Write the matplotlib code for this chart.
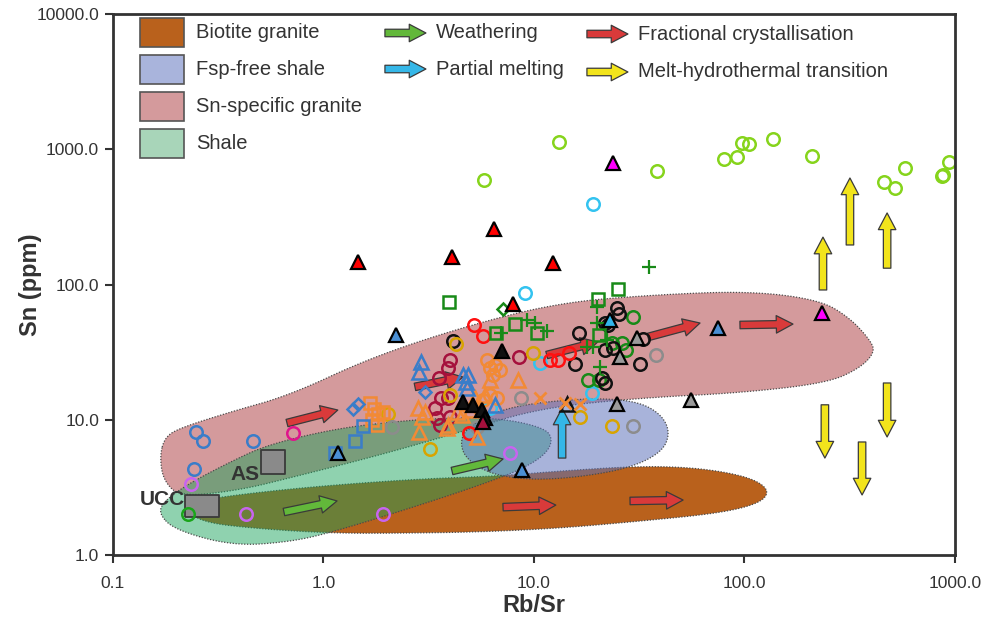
import numpy as np
import matplotlib
matplotlib.use("Agg")
import matplotlib.pyplot as plt
from matplotlib.patches import Rectangle
from matplotlib.ticker import NullLocator

plt.rcParams["font.family"] = ["Liberation Sans", "DejaVu Sans"]

# ---- sample data: Rb/Sr ratio vs Sn (ppm) ----
lime_rbsr = [5.8, 13.2, 38.4, 80, 92, 97, 105, 137, 209, 460, 519, 579, 868, 877, 937]
lime_sn = [590, 1130, 690, 850, 875, 1110, 1090, 1190, 890, 573, 517, 727, 634, 650, 805]

cyan_rbsr = [19.1, 9.07, 10.7, 6.18, 18.9]
cyan_sn = [394, 86.5, 26.3, 12.2, 15.8]

blue_circ_rbsr = [0.248, 0.268, 0.463, 0.243]
blue_circ_sn = [8.1, 7.0, 7.0, 4.3]

magenta_circ_rbsr = [0.72]
magenta_circ_sn = [8.0]

violet_rbsr = [0.235, 0.43, 1.92, 7.7]
violet_sn = [3.35, 2.0, 2.0, 5.7]

ucc_green_rbsr = [0.227]
ucc_green_sn = [2.0]

dkgreen_circ_rbsr = [29.5, 26.2, 27.4, 23.5, 18.1, 20.4]
dkgreen_circ_sn = [57.5, 37, 33, 37, 19.7, 19.7]

black_circ_rbsr = [4.12, 16.4, 15.7, 24.8, 25.3, 21.8, 22.5, 21.8, 23.7, 31.9, 33, 21.8, 21.1]
black_circ_sn = [38, 44, 26, 67, 61, 52, 50, 33, 34, 26, 39.5, 18.7, 20.4]

red_circ_rbsr = [5.19, 5.73, 11.9, 13.0, 14.7, 4.91]
red_circ_sn = [50.2, 41.6, 27.7, 27.7, 31.2, 8.0]

maroon_circ_rbsr = [8.49, 3.99, 3.91, 3.54, 3.91, 3.62, 3.39, 3.46, 3.99, 3.57]
maroon_circ_sn = [29.1, 27.7, 24.1, 20.4, 14.5, 14.5, 12.2, 10.3, 10.5, 9.15]

orange_circ_rbsr = [5.98, 6.53, 6.18, 6.9, 6.39, 6.18, 6.67, 5.73]
orange_circ_sn = [27.7, 25.4, 24.1, 23.3, 21.4, 15.2, 14.5, 14.0]

gold_circ_rbsr = [4.26, 9.9, 3.99, 2.03, 3.21, 16.5, 23.5]
gold_circ_sn = [36.3, 31.2, 15.2, 11.0, 6.08, 10.5, 9.0]

grey_circ_rbsr = [2.12, 8.68, 5.36, 29.5, 38]
grey_circ_sn = [8.84, 14.5, 8.84, 9.0, 30.1]

orange_tri_rbsr = [2.81, 2.94, 3.04, 2.84, 3.91, 4.31, 4.55, 4.97, 6.18, 8.4, 5.85, 5.25, 5.36, 3.86]
orange_tri_sn = [12.2, 10.5, 11.4, 8.1, 9.15, 11.4, 10.8, 11.8, 19.7, 19.7, 15.2, 14.5, 7.46, 8.7]

blue_tri_rbsr = [2.9, 2.84, 4.6, 4.86, 4.75, 4.8, 6.53]
blue_tri_sn = [26.7, 22.5, 21.4, 21.4, 19.0, 17.2, 12.9]

orange_x_rbsr = [10.7, 16.5, 14.0]
orange_x_sn = [14.5, 13.1, 13.3]

orange_sq_rbsr = [1.66, 1.74, 1.82, 1.70, 1.80, 1.92]
orange_sq_sn = [13.3, 12.0, 11.0, 9.96, 9.15, 11.4]

blue_sq_rbsr = [1.54, 1.41, 1.13]
blue_sq_sn = [9.0, 7.0, 5.7]

blue_dia_rbsr = [1.38, 1.46, 3.04]
blue_dia_sn = [12.0, 13.1, 16.0]

green_sq_rbsr = [3.95, 20.1, 25.1, 6.6, 8.1, 10.3, 20.4]
green_sq_sn = [74, 78, 93, 44, 51, 44, 42]

green_dia_rbsr = [7.1]
green_dia_sn = [66]

green_plus_rbsr = [19.9, 9.3, 11.5, 10.1, 7.0, 35.2, 19.9, 19.1, 17.9, 20.6, 22.2]
green_plus_sn = [68, 55, 45, 52, 44, 135, 52, 34.5, 34.5, 24.5, 39]

# filled triangles with black edge
red_ftri_rbsr = [1.46, 4.08, 6.46, 12.3, 7.95]
red_ftri_sn = [147, 160, 257, 144, 72]
magenta_ftri_rbsr = [23.7, 234]
magenta_ftri_sn = [790, 62]
blue_ftri_rbsr = [2.21, 1.17, 8.8, 75]
blue_ftri_sn = [42, 5.7, 4.25, 48]
cyan_ftri_rbsr = [23]
cyan_ftri_sn = [55]
grey_ftri_rbsr = [25.6, 30.9, 24.8, 55.7]
grey_ftri_sn = [29, 40, 13, 14]
black_ftri_rbsr = [7.05, 4.6, 5.13, 5.66, 5.85]
black_ftri_sn = [32, 13.5, 12.9, 11.8, 10.3]
maroon_ftri_rbsr = [5.75]
maroon_ftri_sn = [9.6]
black_otri_rbsr = [14.4]
black_otri_sn = [13]

# reference compositions
ref_names = ["UCC", "AS"]
ref_rbsr = [0.265, 0.576]
ref_sn = [2.30, 4.87]

# ---- field outlines (Rb/Sr, Sn) ----
biotite_rbsr = [0.217, 0.259, 0.499, 1.11, 2.87, 6.90, 13.3, 31.9, 61.5, 106, 132,
                119, 76.5, 31.9, 13.3, 5.54, 2.31, 1.11, 0.499, 0.259]
biotite_sn = [2.30, 2.55, 2.92, 3.29, 3.65, 3.84, 4.18, 4.55, 4.40, 3.77, 3.02,
              2.42, 2.04, 1.78, 1.58, 1.48, 1.45, 1.45, 1.56, 1.75]

sn_granite_rbsr = [0.167, 0.177, 0.208, 0.360, 0.693, 1.66, 4.60, 12.9, 35.6, 106,
                   229, 317, 395, 417, 354, 247, 95.2, 31.9, 10.7, 4.81, 1.86,
                   0.717, 0.401, 0.208, 0.173]
sn_granite_sn = [5.49, 7.46, 8.69, 11.4, 15.2, 28.6, 48.5, 73.0, 83.6, 89.5,
                 76.8, 56.5, 38.9, 31.7, 24.1, 18.7, 15.8, 14.5, 12.2, 8.40, 5.49,
                 3.77, 3.02, 2.69, 3.58]

shale_rbsr = [0.164, 0.197, 0.372, 0.693, 1.11, 2.87, 5.54, 8.59, 11.3, 12.3,
              11.3, 6.90, 3.58, 1.86, 1.07, 0.539, 0.360, 0.232, 0.177]
shale_sn = [2.04, 1.53, 1.17, 1.25, 1.48, 2.34, 3.29, 4.25, 5.49, 7.09,
            8.69, 10.3, 10.3, 9.46, 8.40, 6.51, 4.87, 3.41, 2.55]

fsp_free_rbsr = [4.45, 4.97, 6.90, 10.7, 20.6, 31.9, 40.6, 44.3, 40.6, 28.6,
                 16.5, 9.58, 6.18, 4.70]
fsp_free_sn = [7.09, 9.15, 11.8, 13.5, 14.5, 13.5, 10.8, 7.98, 5.77, 4.40,
               3.77, 3.58, 3.97, 5.21]

# ---- process arrows: (start, end) in (Rb/Sr, Sn) ----
fc_arrows = [((0.671, 9.46), (1.17, 11.8)), ((2.72, 17.5), (4.60, 20.7)),
             ((11.5, 30.1), (20.1, 37.6)), ((34.8, 40.9), (61.5, 51.9)),
             ((95.2, 50.2), (170, 51.0)), ((7.13, 2.26), (12.7, 2.34)),
             ((28.6, 2.51), (51.1, 2.55))]
weathering_arrows = [((0.649, 2.08), (1.16, 2.51)), ((4.08, 4.18), (7.13, 5.13))]
melting_arrows = [((13.6, 5.21), (13.6, 12.2))]
hydrothermal_arrows = [((236, 91.1), (236, 224)), ((317, 196), (317, 613)),
                       ((476, 132), (476, 338)), ((241, 12.9), (241, 5.21)),
                       ((476, 18.7), (476, 7.46)), ((362, 6.85), (362, 2.78))]

TEXT = "#333333"
EDGE = "#3a3a3a"
ARROW_STYLE = "simple,head_length=1.0,head_width=1.05,tail_width=0.45"


def smooth_outline(xs, ys, rounds=3):
    """ round off a closed outline with chaikin corner cutting in log space """
    pts = np.column_stack([np.log10(xs), np.log10(ys)])
    for _ in range(rounds):
        nxt = np.roll(pts, -1, axis=0)
        new = np.empty((2 * len(pts), 2))
        new[0::2] = 0.75 * pts + 0.25 * nxt
        new[1::2] = 0.25 * pts + 0.75 * nxt
        pts = new
    return 10 ** pts[:, 0], 10 ** pts[:, 1]


def arrow(ax, start, end, color, coords="data"):
    ax.annotate("", xy=end, xytext=start, xycoords=coords, textcoords=coords,
                arrowprops=dict(arrowstyle=ARROW_STYLE, fc=color, ec=EDGE,
                                lw=0.9, shrinkA=0, shrinkB=0,
                                mutation_scale=12),
                zorder=6, annotation_clip=False)


fig = plt.figure(figsize=(9.84, 6.33), dpi=100)
ax = fig.add_axes([0.1148, 0.1232, 0.8557, 0.8547])
ax.set_xscale("log")
ax.set_yscale("log")
ax.set_xlim(0.1, 1000)
ax.set_ylim(1, 10000)

# fields
fields = [
    ("Biotite granite", biotite_rbsr, biotite_sn, (0.725, 0.380, 0.110, 1.0), 1),
    ("Sn-specific granite", sn_granite_rbsr, sn_granite_sn, (0.831, 0.604, 0.612, 1.0), 2),
    ("Shale", shale_rbsr, shale_sn, (0.086, 0.631, 0.345, 0.48), 3),
    ("Fsp-free shale", fsp_free_rbsr, fsp_free_sn, (0.357, 0.443, 0.725, 0.53), 4),
]
for name, fx, fy, color, z in fields:
    sx, sy = smooth_outline(fx, fy)
    ax.fill(sx, sy, facecolor=color, edgecolor="#4a4a4a", lw=0.9,
            ls=(0, (1, 1.3)), zorder=z)

# arrows
for a, b in fc_arrows:
    arrow(ax, a, b, "#d93a3a")
for a, b in weathering_arrows:
    arrow(ax, a, b, "#62b83a")
for a, b in melting_arrows:
    arrow(ax, a, b, "#35b7e8")
for a, b in hydrothermal_arrows:
    arrow(ax, a, b, "#f2e41c")

# reference compositions
ucc_box = [(-1.5, -1), (1.5, -1), (1.5, 1), (-1.5, 1), (-1.5, -1)]
ax.scatter(ref_rbsr[:1], ref_sn[:1], marker=ucc_box, s=600, c="#8a8a8a",
           edgecolors="#3a3a3a", linewidths=1.3, zorder=5)
ax.scatter(ref_rbsr[1:], ref_sn[1:], marker="s", s=300, c="#8a8a8a",
           edgecolors="#3a3a3a", linewidths=1.3, zorder=5)
ax.annotate(ref_names[0], (ref_rbsr[0], ref_sn[0]), xytext=(-12, 5),
            textcoords="offset points", ha="right", va="center",
            fontsize=15, fontweight="bold", color=TEXT, zorder=7)
ax.annotate(ref_names[1], (ref_rbsr[1], ref_sn[1]), xytext=(-10, -9),
            textcoords="offset points", ha="right", va="center",
            fontsize=15, fontweight="bold", color=TEXT, zorder=7)

# open markers
open_sets = [
    (lime_rbsr, lime_sn, "o", "#86d41c"),
    (cyan_rbsr, cyan_sn, "o", "#33c3f0"),
    (blue_circ_rbsr, blue_circ_sn, "o", "#3a7dc9"),
    (magenta_circ_rbsr, magenta_circ_sn, "o", "#e0148c"),
    (violet_rbsr, violet_sn, "o", "#c864f0"),
    (ucc_green_rbsr, ucc_green_sn, "o", "#1aa51a"),
    (dkgreen_circ_rbsr, dkgreen_circ_sn, "o", "#188a18"),
    (black_circ_rbsr, black_circ_sn, "o", "#111111"),
    (maroon_circ_rbsr, maroon_circ_sn, "o", "#a5103c"),
    (orange_circ_rbsr, orange_circ_sn, "o", "#f28a35"),
    (gold_circ_rbsr, gold_circ_sn, "o", "#d8a400"),
    (grey_circ_rbsr, grey_circ_sn, "o", "#8c8c8c"),
    (red_circ_rbsr, red_circ_sn, "o", "#ff1010"),
    (orange_tri_rbsr, orange_tri_sn, "^", "#f28a35"),
    (blue_tri_rbsr, blue_tri_sn, "^", "#3a7dc9"),
    (orange_sq_rbsr, orange_sq_sn, "s", "#f28a35"),
    (blue_sq_rbsr, blue_sq_sn, "s", "#3a7dc9"),
    (blue_dia_rbsr, blue_dia_sn, "D", "#3a7dc9"),
    (green_sq_rbsr, green_sq_sn, "s", "#188a18"),
    (green_dia_rbsr, green_dia_sn, "D", "#188a18"),
    (black_otri_rbsr, black_otri_sn, "^", "#111111"),
]
sizes = {"o": 9, "^": 10, "s": 8.5, "D": 6.5}
for xs, ys, m, c in open_sets:
    ax.plot(xs, ys, ls="none", marker=m, ms=sizes[m], mfc="none", mec=c,
            mew=1.8, zorder=8)

ax.plot(orange_x_rbsr, orange_x_sn, ls="none", marker="x", ms=9, mec="#f28a35",
        mew=2, zorder=8)
ax.plot(green_plus_rbsr, green_plus_sn, ls="none", marker="+", ms=10,
        mec="#188a18", mew=1.6, zorder=8)

# filled triangles
filled_sets = [
    (red_ftri_rbsr, red_ftri_sn, "#ff0000"),
    (magenta_ftri_rbsr, magenta_ftri_sn, "#ff00ff"),
    (blue_ftri_rbsr, blue_ftri_sn, "#4a8fd4"),
    (cyan_ftri_rbsr, cyan_ftri_sn, "#33b5ea"),
    (grey_ftri_rbsr, grey_ftri_sn, "#9a9a9a"),
    (black_ftri_rbsr, black_ftri_sn, "#111111"),
    (maroon_ftri_rbsr, maroon_ftri_sn, "#a5103c"),
]
for xs, ys, c in filled_sets:
    ax.plot(xs, ys, ls="none", marker="^", ms=10, mfc=c, mec="#000000",
            mew=1.6, zorder=9)

# legend, drawn in axes coordinates
patch_rows = [("Biotite granite", (0.725, 0.380, 0.110), 0.9649),
              ("Fsp-free shale", (0.663, 0.706, 0.863), 0.8974),
              ("Sn-specific granite", (0.831, 0.604, 0.612), 0.8290),
              ("Shale", (0.659, 0.835, 0.725), 0.7597)]
for label, color, yc in patch_rows:
    ax.add_patch(Rectangle((0.0321, yc - 0.0268), 0.0523, 0.0536,
                           transform=ax.transAxes, facecolor=color,
                           edgecolor="#555555", lw=1.2, zorder=10))
    ax.text(0.0986, yc, label, transform=ax.transAxes, va="center",
            ha="left", fontsize=14.5, color=TEXT, zorder=10)

arrow_rows = [("Weathering", "#62b83a", 0.3230, 0.3836, 0.9649),
              ("Partial melting", "#35b7e8", 0.3230, 0.3836, 0.8983),
              ("Fractional crystallisation", "#d93a3a", 0.5629, 0.6235, 0.9630),
              ("Melt-hydrothermal transition", "#f2e41c", 0.5629, 0.6235, 0.8928)]
for label, color, x0, xt, yc in arrow_rows:
    arrow(ax, (x0, yc), (x0 + 0.0487, yc), color, coords="axes fraction")
    ax.text(xt, yc, label, transform=ax.transAxes, va="center", ha="left",
            fontsize=14.5, color=TEXT, zorder=10)

# axes styling
for side in ["left", "bottom", "right", "top"]:
    ax.spines[side].set_linewidth(2.0)
    ax.spines[side].set_color("#333333")
    ax.spines[side].set_zorder(12)
ax.set_xticks([0.1, 1, 10, 100, 1000])
ax.set_xticklabels(["0.1", "1.0", "10.0", "100.0", "1000.0"])
ax.set_yticks([1, 10, 100, 1000, 10000])
ax.set_yticklabels(["1.0", "10.0", "100.0", "1000.0", "10000.0"])
ax.xaxis.set_minor_locator(NullLocator())
ax.yaxis.set_minor_locator(NullLocator())
ax.tick_params(axis="both", which="major", direction="out", length=6,
               width=1.5, color="#333333", labelsize=12.5, labelcolor=TEXT)
ax.tick_params(axis="x", pad=9)
ax.tick_params(axis="y", pad=4)

ax.set_xlabel("Rb/Sr", fontsize=17, fontweight="bold", color=TEXT)
ax.set_ylabel("Sn (ppm)", fontsize=17, fontweight="bold", color=TEXT)
ax.xaxis.set_label_coords(0.5, -0.072)
ax.yaxis.set_label_coords(-0.084, 0.5)

fig.savefig("out.png", dpi=100)
